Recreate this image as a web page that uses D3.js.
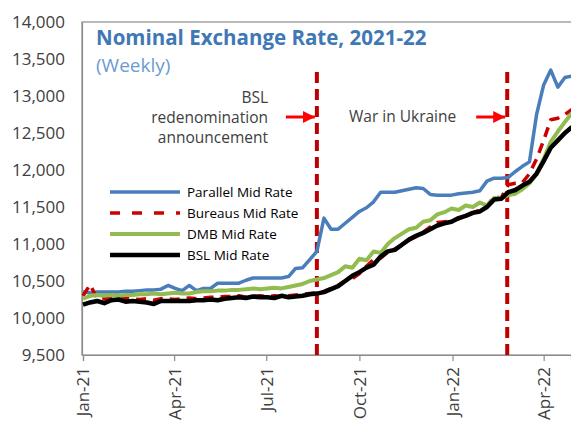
<!DOCTYPE html>
<html>
<head>
<meta charset="utf-8">
<script src="https://cdn.jsdelivr.net/npm/d3@7.9.0/dist/d3.min.js"></script>
<style>
  body { margin: 0; background: #fff; }
  svg { display: block; font-family: "Open Sans", sans-serif; }
</style>
</head>
<body>
<svg id="chart" width="571" height="423"></svg>
<script>
// weekly observations, first week 1 Jan 2021
const startDate = new Date(2021, 0, 1);

const parallel = [10350, 10340, 10350, 10350, 10350, 10350, 10360, 10360, 10370, 10380,
  10380, 10390, 10440, 10400, 10370, 10440, 10370, 10400, 10400, 10470,
  10470, 10470, 10470, 10510, 10540, 10540, 10540, 10540, 10540, 10560,
  10670, 10680, 10790, 10900, 11350, 11200, 11200, 11280, 11360, 11440,
  11490, 11570, 11700, 11700, 11700, 11720, 11740, 11760, 11750, 11670,
  11660, 11660, 11660, 11680, 11690, 11700, 11720, 11850, 11890, 11890,
  11900, 11980, 12050, 12110, 12750, 13150, 13350, 13120, 13250, 13270];

const bureaus = [10300, 10450, 10260, 10260, 10270, 10260, 10270, 10260, 10250, 10260,
  10240, 10260, 10260, 10250, 10260, 10270, 10260, 10270, 10280, 10280,
  10290, 10290, 10300, 10280, 10290, 10300, 10290, 10300, 10290, 10300,
  10310, 10320, 10330, 10340, 10360, 10400, 10440, 10500, 10530, 10600,
  10700, 10790, 10810, 10890, 10930, 10990, 11050, 11100, 11160, 11230,
  11290, 11300, 11310, 11340, 11380, 11420, 11460, 11520, 11640, 11620,
  11800, 11820, 11830, 11950, 12150, 12400, 12680, 12700, 12750, 12820];

const dmb = [10260, 10300, 10310, 10300, 10310, 10300, 10310, 10310, 10320, 10320,
  10330, 10320, 10330, 10340, 10330, 10330, 10350, 10360, 10360, 10370,
  10370, 10380, 10380, 10390, 10400, 10390, 10400, 10410, 10400, 10420,
  10440, 10460, 10500, 10520, 10540, 10580, 10620, 10700, 10680, 10800,
  10780, 10900, 10880, 11000, 11080, 11140, 11200, 11220, 11300, 11320,
  11400, 11430, 11480, 11460, 11520, 11500, 11560, 11520, 11620, 11620,
  11660, 11680, 11740, 11820, 11950, 12150, 12380, 12520, 12650, 12770];

const bsl = [10180, 10210, 10230, 10200, 10240, 10250, 10220, 10230, 10220, 10210,
  10190, 10230, 10230, 10230, 10230, 10230, 10240, 10240, 10250, 10240,
  10260, 10270, 10280, 10270, 10290, 10280, 10280, 10270, 10300, 10280,
  10290, 10300, 10320, 10330, 10350, 10390, 10430, 10500, 10570, 10620,
  10680, 10720, 10830, 10900, 10920, 10990, 11060, 11110, 11150, 11200,
  11250, 11280, 11300, 11350, 11380, 11420, 11440, 11500, 11600, 11610,
  11700, 11730, 11790, 11840, 11950, 12120, 12300, 12400, 12500, 12580];

const seriesNames = ["Parallel Mid Rate", "Bureaus Mid Rate", "DMB Mid Rate", "BSL Mid Rate"];
const yTicks = [9500, 10000, 10500, 11000, 11500, 12000, 12500, 13000, 13500, 14000];
const xTicks = [new Date(2021, 0, 1), new Date(2021, 3, 1), new Date(2021, 6, 1),
  new Date(2021, 9, 1), new Date(2022, 0, 1), new Date(2022, 3, 1)];
const events = [
  { date: new Date(2021, 7, 20), label: ["BSL", "redenomination", "announcement"] },
  { date: new Date(2022, 1, 24), label: ["War in Ukraine"] }
];

const dates = parallel.map((_, i) => d3.timeDay.offset(startDate, i * 7));

const svg = d3.select("#chart");
const margin = { top: 22, left: 82, bottom: 355 };

const x = d3.scaleTime()
  .domain([startDate, new Date(2022, 3, 28)])
  .range([83, 571]);

const y = d3.scaleLinear()
  .domain([9500, 14000])
  .range([margin.bottom, margin.top]);

// plot frame
svg.append("rect")
  .attr("x", margin.left).attr("y", margin.top)
  .attr("width", 600).attr("height", margin.bottom - margin.top)
  .attr("fill", "none").attr("stroke", "#8c8c8c").attr("stroke-width", 1.2);

// y axis
const yAxis = svg.append("g")
  .attr("transform", `translate(${margin.left},0)`)
  .call(d3.axisLeft(y).tickValues(yTicks).tickSize(0).tickPadding(17).tickFormat(d3.format(",")));
yAxis.select(".domain").attr("stroke", "#8c8c8c").attr("stroke-width", 1.2);
yAxis.selectAll("text").attr("font-size", 17).attr("fill", "#404040")
  .attr("font-family", "Open Sans, sans-serif");

// x axis
const xAxis = svg.append("g")
  .attr("transform", `translate(0,${margin.bottom})`)
  .call(d3.axisBottom(x).tickValues(xTicks).tickSize(6).tickFormat(d3.timeFormat("%b-%y")));
xAxis.select(".domain").attr("stroke", "#8c8c8c").attr("stroke-width", 1.2);
xAxis.selectAll(".tick line").attr("stroke", "#8c8c8c").attr("stroke-width", 1.2);
xAxis.selectAll("text")
  .attr("font-size", 17).attr("fill", "#404040")
  .attr("font-family", "Open Sans, sans-serif")
  .attr("text-anchor", "end")
  .attr("transform", "rotate(-90)")
  .attr("x", -12).attr("y", 0).attr("dy", "0.35em");

// event lines
svg.selectAll(".event")
  .data(events)
  .join("line")
  .attr("class", "event")
  .attr("x1", d => x(d.date)).attr("x2", d => x(d.date))
  .attr("y1", 72).attr("y2", margin.bottom)
  .attr("stroke", "#c00000").attr("stroke-width", 4)
  .attr("stroke-dasharray", "11,6");

// arrows
const defs = svg.append("defs");
defs.append("marker")
  .attr("id", "arrow").attr("viewBox", "0 0 10 10")
  .attr("refX", 10).attr("refY", 5)
  .attr("markerWidth", 4).attr("markerHeight", 4)
  .attr("markerUnits", "strokeWidth")
  .attr("orient", "auto")
  .append("path").attr("d", "M0,0L10,5L0,10Z").attr("fill", "#ff0000");

svg.selectAll(".arrow")
  .data(events)
  .join("line")
  .attr("class", "arrow")
  .attr("x1", d => x(d.date) - 31).attr("x2", d => x(d.date) - 2)
  .attr("y1", 117).attr("y2", 117)
  .attr("stroke", "#ff0000").attr("stroke-width", 3)
  .attr("marker-end", "url(#arrow)");

// annotation text
const ann = svg.append("g").attr("font-size", 15.5).attr("fill", "#404040");
ann.append("text")
  .attr("text-anchor", "end")
  .selectAll("tspan")
  .data(events[0].label)
  .join("tspan")
  .attr("x", 268)
  .attr("y", (d, i) => 103 + i * 20)
  .text(d => d);
ann.append("text")
  .attr("x", 349).attr("y", 122)
  .text(events[1].label[0]);

// series
const colors = ["#4a7ebb", "#cc0000", "#92bc4f", "#000000"];
const widths = [3.5, 3.5, 4, 4.5];
const dashes = [null, "10,7", null, null];
const allSeries = [parallel, bureaus, dmb, bsl];

const line = d3.line()
  .x((d, i) => x(dates[i]))
  .y(d => y(d));

svg.append("g")
  .selectAll("path")
  .data(allSeries)
  .join("path")
  .attr("d", line)
  .attr("fill", "none")
  .attr("stroke", (d, i) => colors[i])
  .attr("stroke-width", (d, i) => widths[i])
  .attr("stroke-dasharray", (d, i) => dashes[i])
  .attr("stroke-linejoin", "round");

// title
svg.append("text")
  .attr("x", 96).attr("y", 45)
  .attr("font-size", 20.5).attr("font-weight", "bold")
  .attr("fill", "#3f78b5")
  .text("Nominal Exchange Rate, 2021-22");
svg.append("text")
  .attr("x", 96).attr("y", 72)
  .attr("font-size", 19)
  .attr("fill", "#6b9bd1")
  .text("(Weekly)");

// legend
const legend = svg.append("g")
  .selectAll("g")
  .data(seriesNames)
  .join("g")
  .attr("transform", (d, i) => `translate(110,${192 + i * 21})`);
legend.append("line")
  .attr("x1", 0).attr("x2", 70)
  .attr("stroke", (d, i) => colors[i])
  .attr("stroke-width", (d, i) => widths[i])
  .attr("stroke-dasharray", (d, i) => dashes[i] ? "10,12" : null);
legend.append("text")
  .attr("x", 77).attr("dy", "0.35em")
  .attr("font-size", 13.5).attr("fill", "#000")
  .text(d => d);
</script>
</body>
</html>
